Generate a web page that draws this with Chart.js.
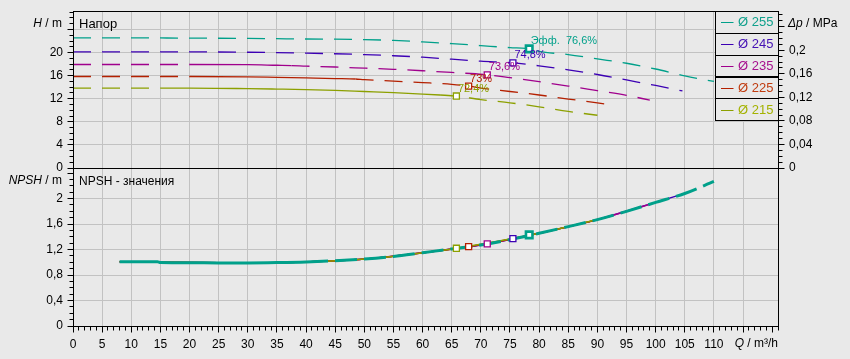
<!DOCTYPE html>
<html><head><meta charset="utf-8">
<script src="https://cdn.jsdelivr.net/npm/chart.js@4.4.1/dist/chart.umd.min.js"></script>
<style>
html,body{margin:0;padding:0;background:#e9e9e9;width:850px;height:359px;overflow:hidden}
canvas{position:absolute;left:0;top:0}
</style></head><body>
<canvas id="top" width="850" height="359"></canvas>
<canvas id="bot" width="850" height="359"></canvas>
<script>
// ---------- DATA ----------
const legendLabels = ['Ø 255', 'Ø 245', 'Ø 235', 'Ø 225', 'Ø 215'];

// Head curves H(Q)
const q255 = [0, 10, 20, 30, 40, 50, 55, 60, 65, 70, 75, 78.3, 80, 85, 90, 95, 100, 105, 110];
const h255 = [22.55, 22.55, 22.5, 22.45, 22.35, 22.25, 22.1, 21.85, 21.55, 21.2, 20.85, 20.64, 20.2, 19.65, 18.9, 18.15, 17.15, 15.95, 15.0];
const q245 = [0, 10, 20, 30, 40, 50, 55, 60, 65, 70, 75.5, 80, 85, 90, 95, 100, 104.6];
const h245 = [20.12, 20.12, 20.12, 20.05, 19.9, 19.65, 19.45, 19.2, 18.85, 18.5, 18.22, 17.7, 17.0, 16.2, 15.25, 14.3, 13.35];
const q235 = [0, 10, 20, 30, 35, 37.5, 40, 45, 50, 55, 60, 65, 71.1, 75, 80, 85, 90, 95, 99];
const h235 = [17.93, 17.93, 17.93, 17.9, 17.8, 17.75, 17.65, 17.5, 17.3, 17.1, 16.85, 16.55, 16.15, 15.65, 14.95, 14.2, 13.4, 12.6, 11.75];
const q225 = [0, 10, 20, 30, 35, 40, 45, 48.5, 50, 55, 60, 65, 67.9, 70, 75, 80, 85, 90, 92.6];
const h225 = [15.85, 15.85, 15.85, 15.8, 15.7, 15.6, 15.5, 15.42, 15.3, 15.05, 14.8, 14.5, 14.2, 13.85, 13.25, 12.65, 11.95, 11.3, 10.9];
const q215 = [0, 10, 15, 20, 30, 35, 40, 45, 50, 55, 60, 63, 65.8, 70, 75, 80, 85, 90];
const h215 = [13.85, 13.85, 13.85, 13.85, 13.75, 13.67, 13.58, 13.45, 13.25, 13.05, 12.81, 12.65, 12.47, 11.85, 11.3, 10.6, 9.8, 9.14];

// NPSH curves
const nq255 = [8, 14.5, 15, 20, 25, 30, 35, 40, 45, 50, 55, 60, 65, 70, 75, 80, 85, 90, 95, 100, 105, 110];
const n255 = [1.01, 1.01, 0.996, 0.993, 0.99, 0.99, 0.995, 1.005, 1.025, 1.05, 1.09, 1.15, 1.21, 1.27, 1.355, 1.455, 1.56, 1.67, 1.8, 1.94, 2.08, 2.27];
const nq245 = [8, 15, 20, 30, 40, 50, 60, 70, 75.5, 80, 90, 100, 104.6];
const n245 = [1.01, 1.0, 0.995, 0.99, 1.005, 1.05, 1.15, 1.27, 1.37, 1.455, 1.67, 1.94, 2.07];
const nq235 = [8, 15, 20, 30, 40, 50, 60, 71.1, 80, 90, 99];
const n235 = [1.01, 1.0, 0.995, 0.99, 1.005, 1.05, 1.15, 1.29, 1.455, 1.67, 1.91];
const nq225 = [8, 15, 20, 30, 40, 50, 60, 67.9, 80, 90, 92.6];
const n225 = [1.01, 1.0, 0.995, 0.99, 1.005, 1.05, 1.15, 1.245, 1.455, 1.67, 1.73];
const nq215 = [8, 15, 20, 30, 40, 50, 60, 65.8, 80, 90];
const n215 = [1.01, 1.0, 0.995, 0.99, 1.005, 1.05, 1.15, 1.22, 1.455, 1.67];

// Best efficiency points (order 215, 225, 235, 245, 255)
const effQ = [65.8, 67.9, 71.1, 75.5, 78.3];
const effH = [12.47, 14.19, 16.15, 18.22, 20.64];
const effNpsh = [1.22, 1.245, 1.29, 1.37, 1.43];
const effText = ['72,4%', '73%', '73,6%', '74,8%', 'Эфф.  76,6%'];

// Axis ranges / ticks
const qMax = 121, hMax = 27.2, npshMax = 2.48;
const MPA_PER_M = 1 / 101.97;

// ---------- STYLE ----------
const FAM = '"Liberation Sans", Arial, sans-serif';
const C = { d255: '#00a08a', d245: '#3c00b4', d235: '#a0008c', d225: '#b42000', d215: '#8ca000' };
const legendColors = [C.d255, C.d245, C.d235, C.d225, C.d215];
const legendTextColors = ['#10a08c', '#4410b4', '#a6108e', '#c03c10', '#a4b200'];
const effColors = [C.d215, C.d225, C.d235, C.d245, C.d255];
const GRID = '#c2c2c2';
const DASH = [18, 11];

Chart.defaults.font.family = FAM;
Chart.defaults.font.size = 12;
Chart.defaults.color = '#000';

const xy = (q, v) => q.map((x, i) => ({ x, y: v[i] }));
const fmt = v => String(Math.round(v * 1000) / 1000).replace('.', ',');
const al = p => Math.round(p - 0.5) + 0.5;
const noPad = s => { s.paddingTop = 0; s.paddingBottom = 0; s.paddingLeft = 0; s.paddingRight = 0; };

function segDash(range, dash) {
  return ctx => {
    if (!range) return dash;
    const a = ctx.p0.parsed.x, b = ctx.p1.parsed.x;
    return (a >= range[0] - 1e-9 && b <= range[1] + 1e-9) ? [] : dash;
  };
}

function mixedText(ctx, parts, x, y, align, size) {
  const w = parts.map(([t, it]) => { ctx.font = (it ? 'italic ' : '') + size + 'px ' + FAM; return ctx.measureText(t).width; });
  const total = w.reduce((a, b) => a + b, 0);
  let cx = align === 'right' ? x - total : x;
  ctx.textBaseline = 'middle'; ctx.textAlign = 'left'; ctx.fillStyle = '#000';
  parts.forEach(([t, it], i) => { ctx.font = (it ? 'italic ' : '') + size + 'px ' + FAM; ctx.fillText(t, cx, y); cx += w[i]; });
}

const axisDecor = {
  id: 'axisDecor',
  afterDraw(chart, args, opts) {
    const ctx = chart.ctx, ca = chart.chartArea;
    ctx.save();
    ctx.strokeStyle = '#000'; ctx.lineWidth = 1;
    const L = al(ca.left), R = al(ca.right), T = al(ca.top), B = al(ca.bottom);
    (opts.ticks || []).forEach(t => {
      const s = chart.scales[t.id];
      const n = Math.floor((t.to - s.min) / t.minor + 1e-6);
      for (let i = 0; i <= n; i++) {
        const v = s.min + i * t.minor;
        const r = v / t.major;
        const major = Math.abs(r - Math.round(r)) < 1e-6;
        const len = major ? t.majLen : t.minLen;
        const p = al(s.getPixelForValue(v));
        ctx.beginPath();
        if (t.side === 'left') { ctx.moveTo(L - len, p); ctx.lineTo(L, p); }
        else if (t.side === 'right') { ctx.moveTo(R, p); ctx.lineTo(R + len, p); }
        else { ctx.moveTo(p, B); ctx.lineTo(p, B + len); }
        ctx.stroke();
      }
    });
    (opts.titles || []).forEach(tt => mixedText(ctx, tt.parts, tt.x, tt.y, tt.align, tt.size));
    if (opts.effLabels) {
      const sx = chart.scales.x, sy = chart.scales.y;
      ctx.font = '11px ' + FAM; ctx.textAlign = 'left'; ctx.textBaseline = 'middle';
      effText.forEach((t, i) => {
        ctx.fillStyle = effColors[i];
        ctx.fillText(t, sx.getPixelForValue(effQ[i]) + 1.5, sy.getPixelForValue(effH[i]) - 7.5);
      });
    }
    if (opts.legend) {
      const lx = 715.5, rx = R, top = T, rh = 21.8;
      ctx.fillStyle = '#e9e9e9';
      ctx.fillRect(lx, top, rx - lx, rh * 5);
      legendLabels.forEach((lab, i) => {
        const y0 = top + i * rh;
        const cy = y0 + rh / 2 + 0.5;
        ctx.strokeStyle = '#000'; ctx.lineWidth = 1;
        ctx.strokeRect(lx, al(y0), rx - lx, Math.round(rh));
        ctx.strokeStyle = legendColors[i];
        ctx.beginPath(); ctx.moveTo(721, al(cy)); ctx.lineTo(733.5, al(cy)); ctx.stroke();
        ctx.fillStyle = legendTextColors[i];
        ctx.font = '13px ' + FAM; ctx.textAlign = 'left'; ctx.textBaseline = 'middle';
        ctx.fillText(lab, 738, cy);
      });
    }
    ctx.strokeStyle = '#000'; ctx.lineWidth = 1;
    ctx.strokeRect(L, T, R - L, B - T);
    ctx.restore();
  }
};

// ---------- TOP CHART (head) ----------
const headSeries = [
  { q: q255, h: h255, c: C.d255, solid: null },
  { q: q245, h: h245, c: C.d245, solid: null },
  { q: q235, h: h235, c: C.d235, solid: [20, 37.5] },
  { q: q225, h: h225, c: C.d225, solid: [20, 48.5] },
  { q: q215, h: h215, c: C.d215, solid: [15, 63] }
];
const topDatasets = headSeries.map((s, i) => ({
  type: 'line', data: xy(s.q, s.h), borderColor: s.c, borderWidth: 1.3,
  pointRadius: 0, fill: false, cubicInterpolationMode: 'monotone',
  borderDash: DASH, segment: { borderDash: segDash(s.solid, DASH) }, order: 10 + i
}));
topDatasets.push({
  type: 'line', data: xy(effQ, effH), showLine: false, pointStyle: 'rect',
  pointRadius: [4.25, 4.25, 4.25, 4.25, 4.6], pointBorderWidth: [1.3, 1.3, 1.3, 1.3, 2.6],
  pointBorderColor: effColors, pointBackgroundColor: '#ffffff', order: 1
});

new Chart(document.getElementById('top'), {
  data: { datasets: topDatasets },
  plugins: [axisDecor],
  options: {
    responsive: false, animation: false, events: [],
    layout: { padding: { top: 11, left: 0, right: 0, bottom: 0 } },
    plugins: {
      legend: { display: false }, tooltip: { enabled: false },
      axisDecor: {
        ticks: [
          { id: 'y', side: 'left', minor: 1, major: 4, to: 27, majLen: 6, minLen: 4 },
          { id: 'y2', side: 'right', minor: 0.01, major: 0.04, to: 0.26, majLen: 6, minLen: 4 }
        ],
        titles: [
          { parts: [['H', true], [' / m', false]], x: 62, y: 24, align: 'right', size: 12 },
          { parts: [['Напор', false]], x: 79, y: 24, align: 'left', size: 13 },
          { parts: [['Δp', true], [' / MPa', false]], x: 788, y: 24, align: 'left', size: 12 }
        ],
        effLabels: true, legend: true
      }
    },
    scales: {
      x: {
        type: 'linear', position: 'bottom', min: 0, max: qMax,
        ticks: { display: false, stepSize: 5 },
        grid: { color: GRID, drawTicks: false }, border: { display: false },
        afterFit: s => { s.height = 359 - 168; noPad(s); }
      },
      y: {
        type: 'linear', position: 'left', min: 0, max: hMax,
        ticks: { stepSize: 4, padding: 10, callback: v => (Math.abs(v % 4) < 1e-6 && v <= 20) ? fmt(v) : '' },
        grid: { color: GRID, drawTicks: false }, border: { display: false },
        afterFit: s => { s.width = 73; noPad(s); }
      },
      y2: {
        type: 'linear', position: 'right', min: 0, max: hMax * MPA_PER_M,
        ticks: { stepSize: 0.04, padding: 11, callback: v => { const r = v / 0.04; return (Math.abs(r - Math.round(r)) < 1e-6 && v < 0.21) ? fmt(v) : ''; } },
        grid: { display: false, drawTicks: false }, border: { display: false },
        afterFit: s => { s.width = 72; noPad(s); }
      }
    }
  }
});

// ---------- BOTTOM CHART (NPSH) ----------
const npshSeries = [
  { q: nq255, v: n255, c: C.d255, w: 3, dashFrom: 40 },
  { q: nq215, v: n215, c: C.d215, w: 1.5 },
  { q: nq225, v: n225, c: C.d225, w: 1.5 },
  { q: nq235, v: n235, c: C.d235, w: 1.5 },
  { q: nq245, v: n245, c: C.d245, w: 1.5 }
];
const botDatasets = npshSeries.map((s, i) => ({
  type: 'line', data: xy(s.q, s.v), borderColor: s.c, borderWidth: s.w,
  pointRadius: 0, fill: false, cubicInterpolationMode: 'monotone', order: 10 + i,
  segment: s.dashFrom !== undefined ? { borderDash: segDash([0, s.dashFrom], [22, 7]) } : undefined
}));
botDatasets.push({
  type: 'line', data: xy(effQ, effNpsh), showLine: false, pointStyle: 'rect',
  pointRadius: [4.25, 4.25, 4.25, 4.25, 4.6], pointBorderWidth: [1.3, 1.3, 1.3, 1.3, 2.6],
  pointBorderColor: effColors, pointBackgroundColor: '#ffffff', order: 1
});

new Chart(document.getElementById('bot'), {
  data: { datasets: botDatasets },
  plugins: [axisDecor],
  options: {
    responsive: false, animation: false, events: [],
    layout: { padding: { top: 168, left: 0, right: 72, bottom: 0 } },
    plugins: {
      legend: { display: false }, tooltip: { enabled: false },
      axisDecor: {
        ticks: [
          { id: 'y', side: 'left', minor: 0.1, major: 0.4, to: 2.45, majLen: 6, minLen: 4 },
          { id: 'x', side: 'bottom', minor: 1, major: 5, to: 121, majLen: 6, minLen: 4 }
        ],
        titles: [
          { parts: [['NPSH', true], [' / m', false]], x: 62, y: 181, align: 'right', size: 12 },
          { parts: [['NPSH - значения', false]], x: 79, y: 181.5, align: 'left', size: 12 },
          { parts: [['Q', true], [' / m³/h', false]], x: 778, y: 344, align: 'right', size: 12 }
        ]
      }
    },
    scales: {
      x: {
        type: 'linear', position: 'bottom', min: 0, max: qMax,
        ticks: { stepSize: 5, padding: 11, autoSkip: false, maxRotation: 0, callback: v => (v % 5 === 0 && v <= 110) ? String(v) : '' },
        grid: { color: GRID, drawTicks: false }, border: { display: false },
        afterFit: s => { s.height = 33; noPad(s); }
      },
      y: {
        type: 'linear', position: 'left', min: 0, max: npshMax,
        ticks: { stepSize: 0.4, padding: 10, callback: v => { const r = v / 0.4; return (Math.abs(r - Math.round(r)) < 1e-6 && v < 2.3) ? fmt(v) : ''; } },
        grid: { color: GRID, drawTicks: false }, border: { display: false },
        afterFit: s => { s.width = 73; noPad(s); }
      }
    }
  }
});
</script>
</body></html>
